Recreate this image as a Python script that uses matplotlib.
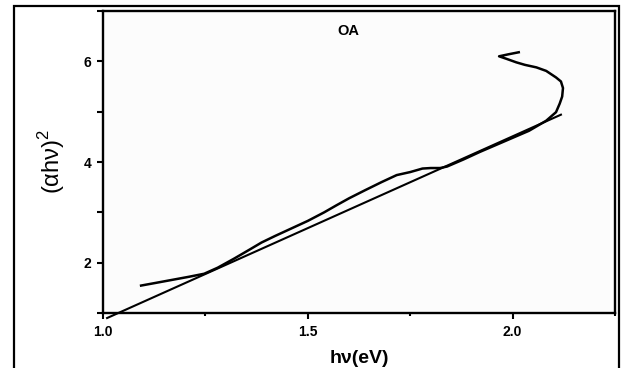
import matplotlib
matplotlib.use("Agg")
import matplotlib.pyplot as plt
from matplotlib.patches import Rectangle
from matplotlib.ticker import FixedLocator

plt.rcParams['font.family'] = ['Liberation Sans', 'DejaVu Sans']

# measured curve (alpha h nu)^2 vs h nu
hv = [1.093, 1.13, 1.17, 1.21, 1.247, 1.28, 1.32, 1.36, 1.387, 1.42, 1.46, 1.5,
      1.54, 1.57, 1.601, 1.64, 1.68, 1.717, 1.75, 1.78, 1.80, 1.823, 1.84,
      1.88, 1.92, 1.96, 2.00, 2.04, 2.082, 2.106, 2.115, 2.121, 2.123, 2.118,
      2.106, 2.082, 2.058, 2.03, 2.009, 1.985, 1.967, 1.99, 2.015]
ahv2 = [1.545, 1.60, 1.66, 1.72, 1.78, 1.90, 2.08, 2.27, 2.40, 2.53, 2.68, 2.83,
        3.00, 3.14, 3.28, 3.44, 3.60, 3.74, 3.80, 3.87, 3.88, 3.88, 3.91,
        4.05, 4.20, 4.34, 4.48, 4.62, 4.82, 4.99, 5.16, 5.30, 5.47, 5.60,
        5.68, 5.81, 5.88, 5.93, 5.98, 6.05, 6.10, 6.14, 6.18]

# linear fit line endpoints
fit_x = [1.01, 2.118]
fit_y = [0.90, 4.94]

xticks = [1.0, 1.5, 2.0]
xticklabels = ['1.0', '1.5', '2.0']
yticks = [2, 4, 6]
yticklabels = ['2', '4', '6']

fig = plt.figure(figsize=(6.21, 3.68), dpi=100)
ax = fig.add_axes([103/621, 1 - 313/368, (615-103)/621, (313-11)/368])
ax.set_facecolor('#fcfcfc')

ax.plot(hv, ahv2, color='black', lw=1.8, solid_joinstyle='round')
ax.plot(fit_x, fit_y, color='black', lw=1.5, clip_on=False)

ax.set_xlim(1.0, 2.25)
ax.set_ylim(1.0, 7.0)
ax.set_xticks(xticks)
ax.set_xticklabels(xticklabels)
ax.set_yticks(yticks)
ax.set_yticklabels(yticklabels)
ax.xaxis.set_minor_locator(FixedLocator([1.25, 1.75, 2.25]))
ax.yaxis.set_minor_locator(FixedLocator([1, 3, 5, 7]))
ax.tick_params(axis='both', which='both', direction='out', width=1.5)
ax.tick_params(axis='both', which='major', length=4.5, labelsize=10, pad=4)
ax.tick_params(axis='x', which='minor', length=2.5)
ax.tick_params(axis='y', which='minor', length=4.5)
for lab in ax.get_xticklabels() + ax.get_yticklabels():
    lab.set_fontweight('bold')
for s in ax.spines.values():
    s.set_linewidth(1.7)

ax.text(1.6, 6.61, 'OA', ha='center', va='center', fontsize=10.5, fontweight='bold')
ax.set_xlabel('hν(eV)', fontsize=14, fontweight='bold', labelpad=8)
ax.set_ylabel('(αhν)$^{\\mathregular{2}}$', fontsize=17, labelpad=12)

fig.patches.append(Rectangle((14/621, -0.05), (619-14)/621, 1.05 - 6/368,
                             transform=fig.transFigure, fill=False,
                             edgecolor='black', lw=1.6))

fig.savefig('out.png', dpi=100)
